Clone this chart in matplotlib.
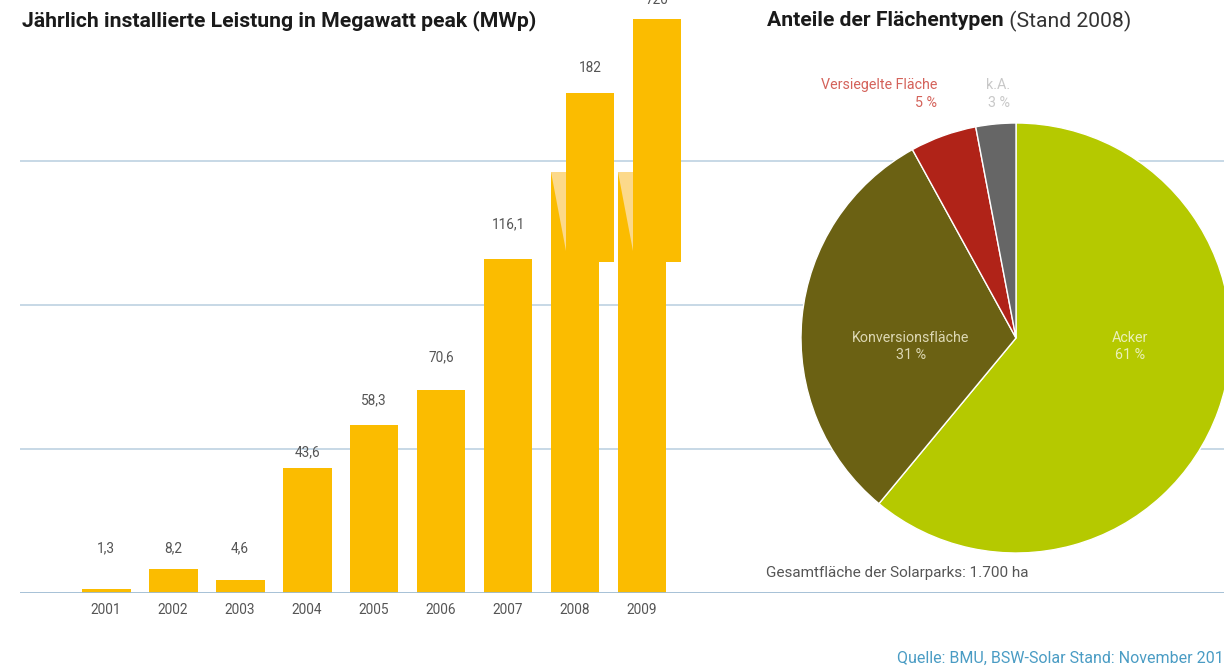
import matplotlib.pyplot as plt
from matplotlib.patches import Polygon

plt.rcParams['font.family'] = ['Roboto', 'DejaVu Sans']

# Daten: jährlich installierte Leistung (MWp)
jahre = ['2001', '2002', '2003', '2004', '2005', '2006', '2007', '2008', '2009']
leistung = [1.3, 8.2, 4.6, 43.6, 58.3, 70.6, 116.1, 182, 720]
werte_text = ['1,3', '8,2', '4,6', '43,6', '58,3', '70,6', '116,1', '182', '720']
label_hoehe = [15.6, 15.6, 15.6, 49.0, 67.1, 82.0, 128.3]   # Beschriftung normale Balken
inset_label_hoehe = [364, 858]                               # Beschriftung 2008/2009
kappung = 146.3                                              # Achsenbruch

# Daten: Anteile der Flächentypen
flaechen = ['Acker', 'Konversionsfläche', 'Versiegelte Fläche', 'k.A.']
anteile = [61, 31, 5, 3]
farben = ['#b5c900', '#6b6113', '#b02318', '#666666']

gelb = '#fbbc00'
hellgelb = '#fcd98a'
grau = '#555555'

fig = plt.figure(figsize=(12.24, 6.68), dpi=100)

# Hauptachse (Balken + Gitterlinien über die ganze Breite)
ax = fig.add_axes([20 / 1224, 75 / 668, 1204 / 1224, 593 / 668])
ax.set_xlim(-1.284, 16.687)
ax.set_ylim(0, 206.1)
for s in ax.spines.values():
    s.set_visible(False)
ax.set_yticks([])
for g in [50, 100, 150]:
    ax.axhline(g, color='#c3d6e4', lw=1.3, zorder=0)
ax.axhline(0, color='#9fbcd3', lw=1.3, zorder=3)

breite = 0.731
versatz = 0.224
x = list(range(len(jahre)))
hoehen = [min(v, kappung) for v in leistung]
ax.bar(x, hoehen, width=breite, color=gelb, zorder=2)
ax.set_xticks(x, jahre)
ax.tick_params(axis='x', length=0, pad=7, labelsize=9.8, labelcolor=grau)

for i, v in enumerate(leistung):
    if v <= kappung:
        ax.text(i, label_hoehe[i], werte_text[i], ha='center', va='center',
                fontsize=9.8, color=grau)
    else:
        links = i - breite / 2
        dreieck = Polygon([(links, kappung), (links + versatz, kappung),
                           (links + versatz, kappung - 27.4)],
                          closed=True, color=hellgelb, zorder=2.5, lw=0)
        ax.add_patch(dreieck)

# Inset-Achse für die gebrochenen Balken 2008/2009
ax2 = fig.add_axes([20 / 1224, (668 - 262) / 668, 1204 / 1224, 262 / 668])
ax2.set_xlim(-1.284, 16.687)
ax2.set_ylim(-1047, 858)
ax2.axis('off')
gross = [(i, v) for i, v in enumerate(leistung) if v > kappung]
for k, (i, v) in enumerate(gross):
    ax2.bar(i + versatz, v + 1047, bottom=-1047, width=breite, color=gelb)
    ax2.text(i + versatz, inset_label_hoehe[k], werte_text[i], ha='center',
             va='center', fontsize=9.8, color=grau, clip_on=False)

# Kreisdiagramm
axp = fig.add_axes([801 / 1224, (668 - 338 - 215) / 668, 430 / 1224, 430 / 668])
axp.pie(anteile, colors=farben, startangle=90, counterclock=False,
        wedgeprops=dict(edgecolor='white', linewidth=1))
axp.set_xlim(-1, 1)
axp.set_ylim(-1, 1)
axp.set_aspect('equal')
axp.axis('off')
axp.text(0.53, -0.04, f'{flaechen[0]}\n{anteile[0]} %', ha='center', va='center',
         fontsize=10.3, color='#eaf0b8', linespacing=1.3)
axp.text(-0.49, -0.04, f'{flaechen[1]}\n{anteile[1]} %', ha='center', va='center',
         fontsize=10.3, color='#ddd8b4', linespacing=1.3)
axp.text(-0.367, 1.135, f'{flaechen[2]}\n{anteile[2]} %', ha='right', va='center',
         multialignment='right', fontsize=10.3, color='#d4625a', linespacing=1.3,
         clip_on=False)
axp.text(-0.028, 1.135, f'{flaechen[3]}\n{anteile[3]} %', ha='right', va='center',
         multialignment='right', fontsize=10.3, color='#c8c8c8', linespacing=1.3,
         clip_on=False)

# Titel und Texte
fig.text(22 / 1224, 1 - 21 / 668, 'Jährlich installierte Leistung in Megawatt peak (MWp)',
         fontsize=15.2, fontweight='bold', color='#1a1a1a', va='center')
t1 = fig.text(767 / 1224, 1 - 21 / 668, 'Anteile der Flächentypen',
              fontsize=15.2, fontweight='bold', color='#1a1a1a', va='center')
ax.annotate(' (Stand 2008)', xy=(1, 0.5), xycoords=t1, va='center', ha='left',
            fontsize=15.2, color='#333333')
fig.text(766 / 1224, 1 - 573 / 668, 'Gesamtfläche der Solarparks: 1.700 ha',
         fontsize=11, color=grau, va='center')
fig.text(897 / 1224, 1 - 658 / 668, 'Quelle: BMU, BSW-Solar Stand: November 2010',
         fontsize=11.5, color='#4a9cc4', va='center')

fig.savefig('out.png', dpi=100)
